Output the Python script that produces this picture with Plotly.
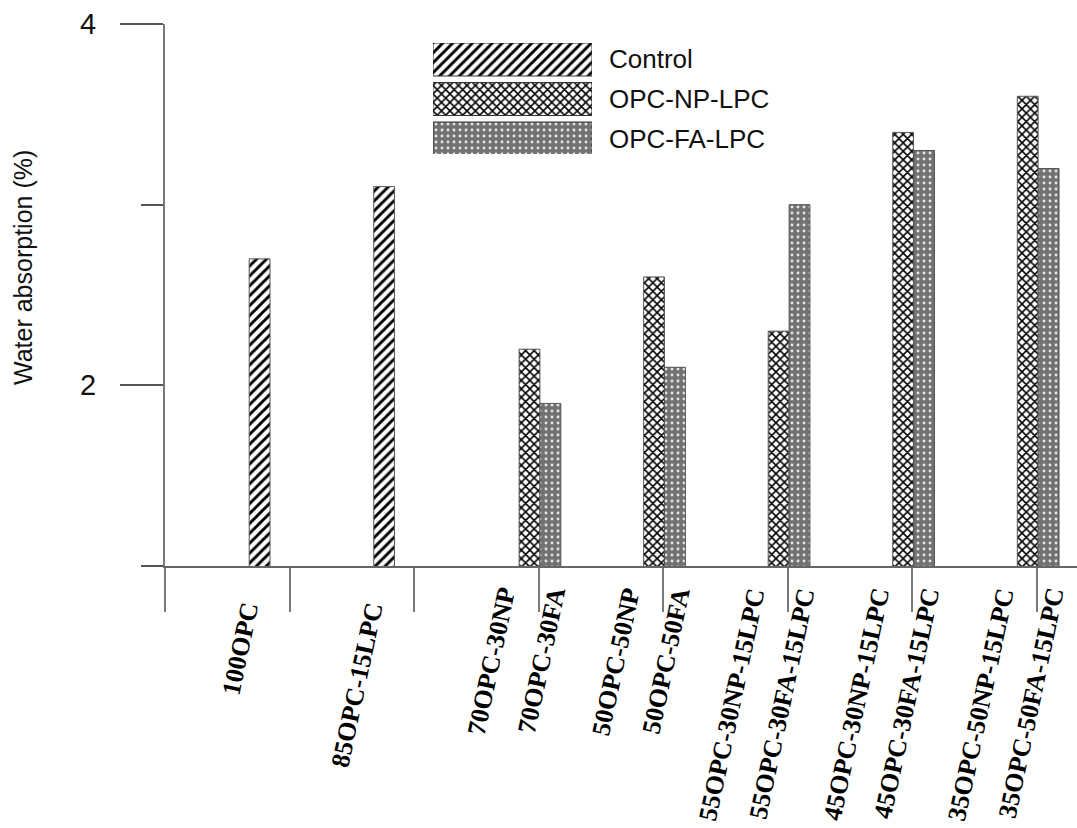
import plotly.graph_objects as go

# ---------------- data ----------------
groups = [1, 2, 3, 4, 5, 6, 7]
series_names = ["Control", "OPC-NP-LPC", "OPC-FA-LPC"]
control_vals = [2.7, 3.1, None, None, None, None, None]
np_vals = [None, None, 2.2, 2.6, 2.3, 3.4, 3.6]
fa_vals = [None, None, 1.9, 2.1, 3.0, 3.3, 3.2]
label_line1 = ["100OPC", "85OPC-15LPC", "70OPC-30NP", "50OPC-50NP",
               "55OPC-30NP-15LPC", "45OPC-30NP-15LPC", "35OPC-50NP-15LPC"]
label_line2 = ["", "", "70OPC-30FA", "50OPC-50FA",
               "55OPC-30FA-15LPC", "45OPC-30FA-15LPC", "35OPC-50FA-15LPC"]
y_title = "Water absorption (%)"

# ---------------- layout geometry ----------------
W, H = 1077, 828
L, R, T, B = 165, 0, 24, 262
plot_w = W - L - R
plot_h = H - T - B
tick_px = 124.57
x_range = [-0.001, plot_w / tick_px]


def px_x(px):
    return (px - L) / plot_w


def px_y(py):
    return (H - B - py) / plot_h


patterns = [
    dict(shape="/", fgcolor="black", bgcolor="white", size=7, solidity=0.42, fillmode="replace"),
    dict(shape="x", fgcolor="black", bgcolor="white", size=6, solidity=0.45, fillmode="replace"),
    dict(shape=".", fgcolor="#e6e6e6", bgcolor="#727272", size=6, solidity=0.18, fillmode="replace"),
]
offsets = [-0.325, -0.158, 0.010]
bar_w = 0.167

fig = go.Figure()
for vals, name, pat, off in zip([control_vals, np_vals, fa_vals], series_names, patterns, offsets):
    fig.add_trace(go.Bar(
        x=groups, y=vals, name=name, offset=off, width=bar_w,
        marker=dict(color=pat["bgcolor"], pattern=pat, line=dict(color="#555555", width=1)),
        showlegend=False,
    ))

# legend swatches drawn as bars on an overlay axis
leg_idx = [2, 1, 0]
for i, (name, pat) in enumerate(zip(series_names, patterns)):
    fig.add_trace(go.Bar(
        x=[1], y=[leg_idx[i]], orientation="h", width=0.835, base=0,
        marker=dict(color=pat["bgcolor"], pattern=pat, line=dict(color="#333333", width=1)),
        xaxis="x2", yaxis="y2", showlegend=False, hoverinfo="skip",
    ))

annotations = []
# legend text
leg_text_y = [59.5, 99, 138.5]
for name, ty in zip(series_names, leg_text_y):
    annotations.append(dict(
        x=px_x(607), y=px_y(ty), xref="paper", yref="paper", text=name,
        showarrow=False, xanchor="left", yanchor="middle",
        font=dict(family="Liberation Sans", size=26, color="#111111"),
    ))

# category labels
lab_font = dict(family="Liberation Serif", size=26, color="black", weight="bold")
for g, l1, l2 in zip(groups, label_line1, label_line2):
    if l2:
        annotations.append(dict(x=g, y=0, xref="x", yref="paper", text=l1, showarrow=False,
                                textangle=-78, xanchor="right", yanchor="top",
                                xshift=-15, yshift=-17, font=lab_font))
        annotations.append(dict(x=g, y=0, xref="x", yref="paper", text=l2, showarrow=False,
                                textangle=-78, xanchor="right", yanchor="top",
                                xshift=35, yshift=-17, font=lab_font))
    else:
        annotations.append(dict(x=g, y=0, xref="x", yref="paper", text=l1, showarrow=False,
                                textangle=-78, xanchor="right", yanchor="top",
                                xshift=-23, yshift=-31, font=lab_font))

# y-axis title
annotations.append(dict(
    x=px_x(23), y=px_y(268), xref="paper", yref="paper", text=y_title, showarrow=False,
    textangle=-90, xanchor="center", yanchor="middle",
    font=dict(family="Liberation Sans", size=25, color="#111111"),
))

axis_col = "#7a7a7a"
fig.update_layout(
    width=W, height=H,
    margin=dict(l=L, r=R, t=T, b=B, pad=0),
    paper_bgcolor="white", plot_bgcolor="white",
    barmode="overlay",
    showlegend=False,
    annotations=annotations,
    xaxis=dict(
        range=x_range, showgrid=False, zeroline=False,
        showline=True, linecolor="#666666", linewidth=1.5,
        ticks="outside", ticklen=44, tickwidth=1.5, tickcolor=axis_col,
        tick0=0, dtick=1, showticklabels=False,
    ),
    yaxis=dict(
        range=[1, 4], showgrid=False, zeroline=False,
        showline=True, linecolor=axis_col, linewidth=2,
        ticks="outside", ticklen=43, tickwidth=1.5, tickcolor="#555555",
        tick0=0, dtick=2, ticklabelstandoff=18,
        tickfont=dict(family="Liberation Sans", size=29, color="#111111"),
        minor=dict(ticks="outside", ticklen=22, tickwidth=1.5, tickcolor="#555555", tick0=0, dtick=1),
    ),
    xaxis2=dict(domain=[px_x(433), px_x(592)], range=[0, 1], visible=False, anchor="y2", fixedrange=True),
    yaxis2=dict(domain=[px_y(154), px_y(43)], range=[-0.392, 2.418], visible=False, anchor="x2", fixedrange=True),
)

fig.write_html("out.html")
